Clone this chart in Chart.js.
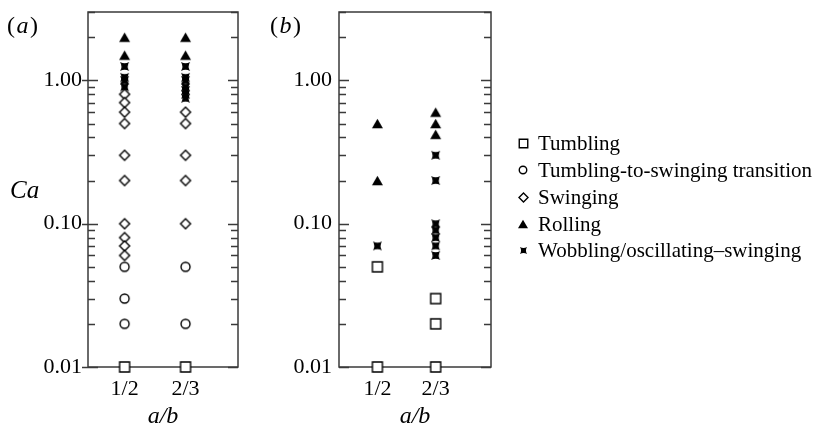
<!DOCTYPE html>
<html>
<head>
<meta charset="utf-8">
<script src="https://cdn.jsdelivr.net/npm/chart.js@4.4.1/dist/chart.umd.min.js"></script>
<style>
  html, body { margin: 0; padding: 0; background: #fff; overflow: hidden; }
  #wrap { position: relative; width: 817px; height: 434px; }
  canvas { position: absolute; top: 0; }
  #chart-a { left: 0; }
  #chart-b { left: 245px; }
  #legend {
    position: absolute; left: 515px; top: 130px;
    font-family: "Liberation Serif", "Times New Roman", serif;
    font-size: 21px; color: #000;
  }
  #legend .row { display: flex; align-items: center; height: 26.85px; line-height: 26.85px; white-space: nowrap; }
  #legend .mark { position: static; width: 16px; height: 16px; display: flex; align-items: center; justify-content: center; margin-right: 7px; }
  #legend .mark canvas { position: static; }
</style>
</head>
<body>
<div id="wrap">
  <canvas id="chart-a" width="245" height="434"></canvas>
  <canvas id="chart-b" width="255" height="434"></canvas>
  <div id="legend"></div>
</div>
<script>
const SERIF = '"Liberation Serif", "Times New Roman", serif';

const ratios = [1 / 2, 2 / 3];
const ratioLabels = ["1/2", "2/3"];
const caTicks = [0.01, 0.1, 1];
const caTickLabels = ["0.01", "0.10", "1.00"];
const regimes = [
  "Tumbling",
  "Tumbling-to-swinging transition",
  "Swinging",
  "Rolling",
  "Wobbling/oscillating\u2013swinging",
];

// Ca values for each regime, one list per a/b ratio: [1/2, 2/3]
const aTumbling = [[0.01], [0.01]];
const aTransition = [[0.05, 0.03, 0.02], [0.05, 0.02]];
const aSwinging = [
  [0.8, 0.7, 0.6, 0.5, 0.3, 0.2, 0.1, 0.08, 0.07, 0.06],
  [0.6, 0.5, 0.3, 0.2, 0.1],
];
const aRolling = [[2.0, 1.5], [2.0, 1.5]];
const aWobbling = [[1.25, 1.05, 1.0, 0.9], [1.25, 1.05, 1.0, 0.9, 0.85, 0.8, 0.75]];

const bTumbling = [[0.05, 0.01], [0.03, 0.02, 0.01]];
const bTransition = [[], []];
const bSwinging = [[], []];
const bRolling = [[0.5, 0.2], [0.6, 0.5, 0.42]];
const bWobbling = [[0.07], [0.3, 0.2, 0.1, 0.09, 0.08, 0.07, 0.06]];

// small canvases used as point styles
function marker(kind, size) {
  const c = document.createElement("canvas");
  c.width = c.height = Math.ceil(size) + 4;
  const g = c.getContext("2d");
  const m = c.width / 2;
  const r = size / 2;
  g.lineWidth = 1.4;
  g.strokeStyle = "#000";
  g.fillStyle = "#fff";
  g.beginPath();
  if (kind === "square") {
    g.rect(m - r, m - r, size, size);
  } else if (kind === "circle") {
    g.arc(m, m, r, 0, Math.PI * 2);
  } else if (kind === "diamond") {
    g.moveTo(m, m - r);
    g.lineTo(m + r, m);
    g.lineTo(m, m + r);
    g.lineTo(m - r, m);
    g.closePath();
  } else if (kind === "triangle") {
    const h = size * 0.85;
    g.moveTo(m, m - h / 2);
    g.lineTo(m + r, m + h / 2);
    g.lineTo(m - r, m + h / 2);
    g.closePath();
    g.fillStyle = "#000";
  } else if (kind === "wobble") {
    const k = r * 0.6;
    g.moveTo(m - r, m - r);
    g.quadraticCurveTo(m, m - r + k, m + r, m - r);
    g.quadraticCurveTo(m + r - k, m, m + r, m + r);
    g.quadraticCurveTo(m, m + r - k, m - r, m + r);
    g.quadraticCurveTo(m - r + k, m, m - r, m - r);
    g.closePath();
    g.fillStyle = "#000";
  }
  g.fill();
  if (kind === "square" || kind === "circle" || kind === "diamond") g.stroke();
  return c;
}

const kinds = ["square", "circle", "diamond", "triangle", "wobble"];
const plotSizes = [10, 9, 10, 11, 9];
const legendSizes = [8.5, 7.5, 9, 10, 7];
const plotMarkers = kinds.map((k, i) => marker(k, plotSizes[i]));

function points(lists) {
  const pts = [];
  lists.forEach((vals, i) => vals.forEach(v => pts.push({ x: ratios[i], y: v })));
  return pts;
}

function minorValues() {
  const out = [];
  [0.01, 0.1, 1].forEach(d => {
    for (let m = 1; m <= 9; m++) {
      const v = +(m * d).toFixed(4);
      if (v <= 3) out.push(v);
    }
  });
  return out;
}

// box frame, inward log ticks and free text labels
const panelFrame = {
  id: "panelFrame",
  beforeDatasetsDraw(chart, args, opts) {
    const { ctx, chartArea: a } = chart;
    const y = chart.scales.y;
    ctx.save();
    ctx.strokeStyle = "#3a3a3a";
    ctx.lineWidth = 1.5;
    ctx.strokeRect(a.left, a.top, a.right - a.left, a.bottom - a.top);
    ctx.beginPath();
    minorValues().forEach(v => {
      const py = Math.round(y.getPixelForValue(v)) + 0.5;
      const major = caTicks.some(t => Math.abs(t - v) < 1e-9);
      const len = major ? 10 : 7;
      ctx.moveTo(a.left - (major ? opts.majorOut : 0), py);
      ctx.lineTo(a.left + len, py);
      ctx.moveTo(a.right - len, py);
      ctx.lineTo(a.right, py);
    });
    ctx.stroke();
    ctx.restore();
  },
  afterDraw(chart, args, opts) {
    const { ctx } = chart;
    ctx.save();
    ctx.fillStyle = "#000";
    ctx.textBaseline = "alphabetic";
    ctx.textAlign = "left";
    // panel tag like "(a)" with the letter in italics
    let x = opts.tagX;
    const parts = [["(", ""], [opts.tag, "italic "], [")", ""]];
    parts.forEach(([t, style]) => {
      ctx.font = style + "24px " + SERIF;
      ctx.fillText(t, x, opts.tagY);
      x += ctx.measureText(t).width + 1.5;
    });
    if (opts.yLabel) {
      ctx.font = "italic 25px " + SERIF;
      ctx.fillText(opts.yLabel, opts.yLabelX, opts.yLabelY);
    }
    ctx.restore();
  },
};

function makePanel(id, sets, cfg) {
  const datasets = sets.map((lists, i) => ({
    label: regimes[i],
    data: points(lists),
    pointStyle: plotMarkers[i],
    pointRadius: 5,
    pointHoverRadius: 5,
    clip: false,
  }));

  return new Chart(document.getElementById(id), {
    type: "scatter",
    data: { datasets },
    options: {
      responsive: false,
      animation: false,
      devicePixelRatio: 1,
      layout: { padding: cfg.padding },
      scales: {
        x: {
          type: "linear",
          position: "bottom",
          min: cfg.xMin,
          max: cfg.xMax,
          afterBuildTicks: s => { s.ticks = ratios.map(v => ({ value: v })); },
          afterFit: s => { s.height = 67; s.paddingLeft = 0; s.paddingRight = 0; },
          grid: { display: false, drawTicks: false },
          border: { display: false },
          ticks: {
            autoSkip: false,
            maxRotation: 0,
            padding: 9,
            color: "#000",
            font: { family: SERIF, size: 22 },
            callback: v => ratioLabels[ratios.findIndex(r => Math.abs(r - v) < 1e-9)],
          },
          title: {
            display: true,
            text: "a/b",
            color: "#000",
            font: { family: SERIF, size: 24, style: "italic" },
            padding: { top: 0, bottom: 3 },
          },
        },
        y: {
          type: "logarithmic",
          position: "left",
          min: 0.01,
          max: 3,
          afterBuildTicks: s => { s.ticks = caTicks.map(v => ({ value: v })); },
          afterFit: s => { s.width = cfg.yWidth; s.paddingTop = 0; s.paddingBottom = 0; },
          grid: { display: false, drawTicks: false },
          border: { display: false },
          ticks: {
            autoSkip: false,
            padding: cfg.yPad,
            color: "#000",
            font: { family: SERIF, size: 22 },
            callback: v => caTickLabels[caTicks.findIndex(t => Math.abs(t - v) < 1e-9)],
          },
        },
      },
      plugins: {
        tooltip: { enabled: false },
        legend: { display: false },
        panelFrame: cfg.frame,
      },
    },
    plugins: [panelFrame],
  });
}

makePanel("chart-a", [aTumbling, aTransition, aSwinging, aRolling, aWobbling], {
  xMin: 0.4, xMax: 0.81, yWidth: 88, yPad: 6,
  padding: { top: 12, right: 7, bottom: 0, left: 0 },
  frame: { tag: "a", tagX: 7, tagY: 33, majorOut: 6, yLabel: "Ca", yLabelX: 10, yLabelY: 198 },
});

const chartB = makePanel("chart-b", [bTumbling, bTransition, bSwinging, bRolling, bWobbling], {
  xMin: 0.39, xMax: 0.825, yWidth: 94, yPad: 7,
  padding: { top: 12, right: 9, bottom: 0, left: 0 },
  frame: { tag: "b", tagX: 25, tagY: 33, majorOut: 0 },
});

// legend built from the panel (b) datasets
const legendEl = document.getElementById("legend");
chartB.data.datasets.forEach((ds, i) => {
  const row = document.createElement("div");
  row.className = "row";
  const mark = document.createElement("span");
  mark.className = "mark";
  mark.appendChild(marker(kinds[i], legendSizes[i]));
  const text = document.createElement("span");
  text.textContent = ds.label;
  row.appendChild(mark);
  row.appendChild(text);
  legendEl.appendChild(row);
});
</script>
</body>
</html>
